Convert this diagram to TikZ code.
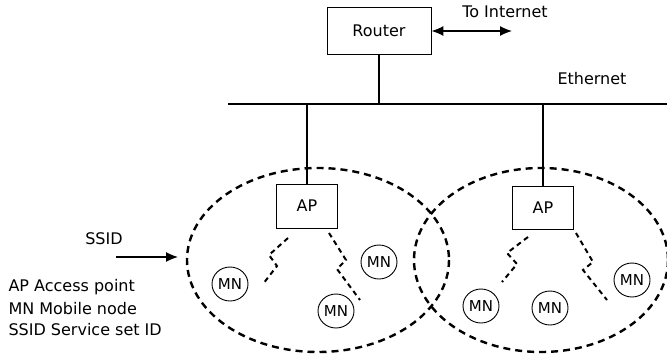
\documentclass[tikz,border=0pt]{standalone}
\usepackage{fontspec}
\setmainfont{DejaVu Sans}
\usetikzlibrary{arrows.meta,shapes.geometric}
\begin{document}
\begin{tikzpicture}[x=1pt,y=-1pt,
  font=\fontsize{16}{19}\selectfont,
  devbox/.style={draw,line width=0.9pt,inner sep=0pt},
  mnode/.style={draw,ellipse,line width=0.9pt,minimum width=36pt,minimum height=34pt,inner sep=0pt,font=\fontsize{15}{17}\selectfont},
  cell/.style={line width=2.4pt,dash pattern=on 7pt off 5pt},
  radio/.style={line width=2pt,dash pattern=on 5pt off 4pt},
  wire/.style={line width=2.5pt},
  tip/.style={-{Latex[length=12pt,width=10pt]}}
]
\useasboundingbox (0,0) rectangle (667,356);

% router and uplink
\node[devbox,minimum width=104pt,minimum height=47pt] (router) at (379,31) {Router};
\coordinate (inet) at (512,31);
\draw[line width=1.2pt,{Latex[length=12pt,width=10pt]}-{Latex[length=12pt,width=10pt]}] (router.east) -- (inet);
\node (inettext) at (505,12) {To Internet};

% Ethernet bus
\coordinate (busL) at (228,104);
\coordinate (busR) at (667,104);
\draw[wire] (busL) -- (busR);
\node (ethtext) at (592,79) {Ethernet};
\draw[wire] (router.south) -- (router.south |- busL);

% access points
\node[devbox,minimum width=61pt,minimum height=44pt] (ap1) at (307,206) {AP};
\node[devbox,minimum width=61pt,minimum height=43pt] (ap2) at (543,207.5) {AP};
\draw[wire] (ap1.north |- busL) -- (ap1.north);
\draw[wire] (ap2.north |- busL) -- (ap2.north);

% coverage areas
\draw[cell] (318,260) ellipse [x radius=131, y radius=92];
\draw[cell] (541,260) ellipse [x radius=127, y radius=92];

% mobile nodes
\node[mnode] (mn1) at (230,284) {MN};
\node[mnode] (mn2) at (379,262) {MN};
\node[mnode] (mn3) at (336,311) {MN};
\node[mnode] (mn4) at (481,306) {MN};
\node[mnode] (mn5) at (550,308) {MN};
\node[mnode] (mn6) at (632,280) {MN};

% radio links
\draw[radio] (288,238) -- (269,255) -- (277,266) -- (263,284);
\draw[radio] (329,233) -- (346,260) -- (337,269) -- (360,300);
\draw[radio] (528,237) -- (507,253) -- (517,264) -- (502,282);
\draw[radio] (576,233) -- (593,262) -- (583,270) -- (607,300);

% SSID pointer
\node (ssid) at (104,239) {SSID};
\coordinate (ssidA) at (116,257);
\coordinate (ssidB) at (178,257);
\draw[line width=1.2pt,tip] (ssidA) -- (ssidB);

% legend
\node[anchor=west] (lg1) at (5,287) {AP Access point};
\node[anchor=west] (lg2) at (5,308.5) {MN Mobile node};
\node[anchor=west] (lg3) at (5,330) {SSID Service set ID};
\end{tikzpicture}
\end{document}
